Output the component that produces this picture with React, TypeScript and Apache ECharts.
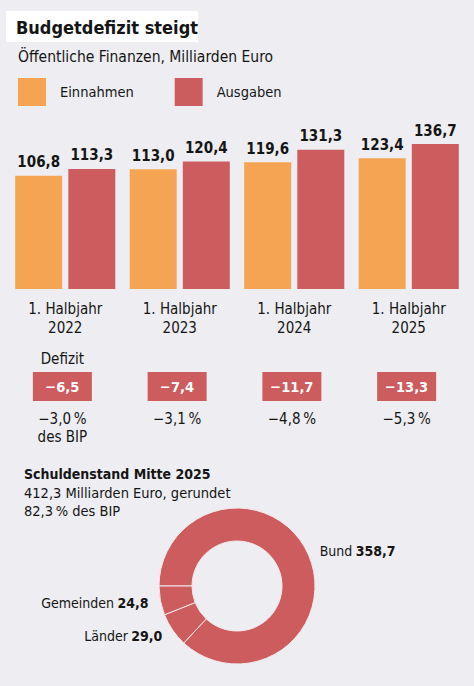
import React, { useEffect, useRef } from "react";
import * as echarts from "echarts";

const years = ["2022", "2023", "2024", "2025"];
const einnahmen = [106.8, 113.0, 119.6, 123.4];
const ausgaben = [113.3, 120.4, 131.3, 136.7];
const defizit = [-6.5, -7.4, -11.7, -13.3];
const defizitBip = [-3.0, -3.1, -4.8, -5.3];
const schuldenNames = ["Bund", "Länder", "Gemeinden"];
const schuldenValues = [358.7, 29.0, 24.8];
const schuldenTotal = 412.3;
const schuldenBip = 82.3;

const FONT = "'DejaVu Sans Condensed', 'Roboto', sans-serif";
const ORANGE = "#f4a453";
const RED = "#cd5c5e";
const BG = "#eeeef2";
const INK = "#151515";

const fmt = (v: number) => v.toFixed(1).replace(".", ",");
const neg = (v: number) => "\u2212" + fmt(Math.abs(v));

export default function App() {
  const ref = useRef<HTMLDivElement>(null);
  useEffect(() => {
    if (!ref.current) return;
    const chart = echarts.init(ref.current, undefined, { renderer: "svg" });
    chart.setOption({
      animation: false,
      backgroundColor: BG,
      textStyle: { fontFamily: FONT },
      graphic: [
        { type: "rect", shape: { x: 6, y: 11, width: 192, height: 31 }, style: { fill: "#ffffff" }, z: 0 },
        {
          type: "text",
          x: 24,
          y: 465,
          style: {
            text:
              "{b|Schuldenstand Mitte 2025}\n" +
              fmt(schuldenTotal) + " Milliarden Euro, gerundet\n" +
              fmt(schuldenBip) + "\u2009% des BIP",
            font: "14.5px " + FONT,
            fill: INK,
            lineHeight: 18.5,
            rich: { b: { fontWeight: "bold", fontSize: 14, fontFamily: FONT, fill: INK, lineHeight: 18.5 } },
          },
        },
      ],
      title: [
        {
          text: "Budgetdefizit steigt",
          left: 16,
          top: 17,
          padding: 0,
          textStyle: { fontFamily: FONT, fontSize: 18, fontWeight: "bold", color: INK, lineHeight: 20 },
        },
        {
          text: "Öffentliche Finanzen, Milliarden Euro",
          left: 18,
          top: 48,
          padding: 0,
          textStyle: { fontFamily: FONT, fontSize: 15.5, fontWeight: "normal", color: INK, lineHeight: 18 },
        },
      ],
      legend: {
        data: ["Einnahmen", "Ausgaben"],
        left: 18,
        top: 78,
        padding: 0,
        icon: "rect",
        itemWidth: 28,
        itemHeight: 28,
        itemGap: 41,
        selectedMode: false,
        textStyle: { fontFamily: FONT, fontSize: 14.5, color: INK, width: 75, padding: [0, 0, 0, 9] },
      },
      grid: [
        { left: 8, right: 8, top: 130, height: 159 },
        { left: 5, right: 10, top: 372, height: 29 },
      ],
      xAxis: [
        {
          type: "category",
          gridIndex: 0,
          data: years,
          axisLine: { show: false },
          axisTick: { show: false },
          axisLabel: {
            formatter: (y: string) => "1. Halbjahr\n" + y,
            fontFamily: FONT,
            fontSize: 15,
            lineHeight: 19,
            color: INK,
            margin: 10,
          },
        },
        { type: "category", gridIndex: 1, data: years, show: false },
      ],
      yAxis: [
        { type: "value", gridIndex: 0, min: 0, max: 150, show: false, splitLine: { show: false } },
        { type: "category", gridIndex: 1, data: ["d"], show: false },
      ],
      series: [
        {
          name: "Einnahmen",
          type: "bar",
          xAxisIndex: 0,
          yAxisIndex: 0,
          data: einnahmen,
          barWidth: 47,
          barGap: "13%",
          itemStyle: { color: ORANGE },
          label: {
            show: true,
            position: "top",
            distance: 6,
            formatter: (p: any) => fmt(p.value),
            fontFamily: FONT,
            fontSize: 15,
            fontWeight: "bold",
            color: INK,
          },
        },
        {
          name: "Ausgaben",
          type: "bar",
          xAxisIndex: 0,
          yAxisIndex: 0,
          data: ausgaben,
          barWidth: 47,
          barGap: "13%",
          itemStyle: { color: RED },
          label: {
            show: true,
            position: "top",
            distance: 6,
            formatter: (p: any) => fmt(p.value),
            fontFamily: FONT,
            fontSize: 15,
            fontWeight: "bold",
            color: INK,
          },
        },
        {
          name: "defizitBox",
          type: "scatter",
          xAxisIndex: 1,
          yAxisIndex: 1,
          symbol: "rect",
          symbolSize: [59, 29],
          itemStyle: { color: RED, opacity: 1 },
          data: defizit.map((v, i) => [i, 0, v]),
          label: {
            show: true,
            position: "inside",
            formatter: (p: any) => neg(p.value[2]),
            fontFamily: FONT,
            fontSize: 14.5,
            fontWeight: "bold",
            color: "#ffffff",
          },
          silent: true,
        },
        {
          name: "defizitBip",
          type: "scatter",
          xAxisIndex: 1,
          yAxisIndex: 1,
          symbol: "rect",
          symbolSize: [59, 29],
          itemStyle: { color: "rgba(0,0,0,0)", opacity: 1 },
          data: defizitBip.map((v, i) => [i, 0, v]),
          label: {
            show: true,
            position: "bottom",
            distance: 9,
            formatter: (p: any) =>
              neg(p.value[2]) + "\u2009%" + (p.dataIndex === 0 ? "\ndes BIP" : ""),
            fontFamily: FONT,
            fontSize: 15,
            lineHeight: 18,
            color: INK,
          },
          silent: true,
        },
        {
          name: "defizitTitel",
          type: "scatter",
          xAxisIndex: 1,
          yAxisIndex: 1,
          symbol: "rect",
          symbolSize: [59, 29],
          itemStyle: { color: "rgba(0,0,0,0)", opacity: 1 },
          data: [[0, 0]],
          label: {
            show: true,
            position: "top",
            distance: 4,
            formatter: "Defizit",
            fontFamily: FONT,
            fontSize: 15,
            lineHeight: 18,
            color: INK,
          },
          silent: true,
        },
        {
          name: "Schuldenstand",
          type: "pie",
          center: [237, 586],
          radius: [45, 78],
          startAngle: 180,
          clockwise: true,
          silent: true,
          data: schuldenNames.map((n, i) => ({ name: n, value: schuldenValues[i] })),
          itemStyle: { color: RED, borderColor: "#f3e8ea", borderWidth: 1 },
          labelLine: { show: false, length: 10, length2: 0 },
          labelLayout: { hideOverlap: false },
          avoidLabelOverlap: false,
          label: {
            show: true,
            position: "outside",
            distanceToLabelLine: 2,
            formatter: (p: any) => "{n|" + p.name + "} {v|" + fmt(p.value) + "}",
            rich: {
              n: { fontFamily: FONT, fontSize: 14, color: INK },
              v: { fontFamily: FONT, fontSize: 14, fontWeight: "bold", color: INK },
            },
          },
        },
      ],
    });
    return () => chart.dispose();
  }, []);
  return (
    <div
      ref={ref}
      style={{ position: "fixed", left: 0, top: 0, width: 474, height: 686 }}
    />
  );
}
